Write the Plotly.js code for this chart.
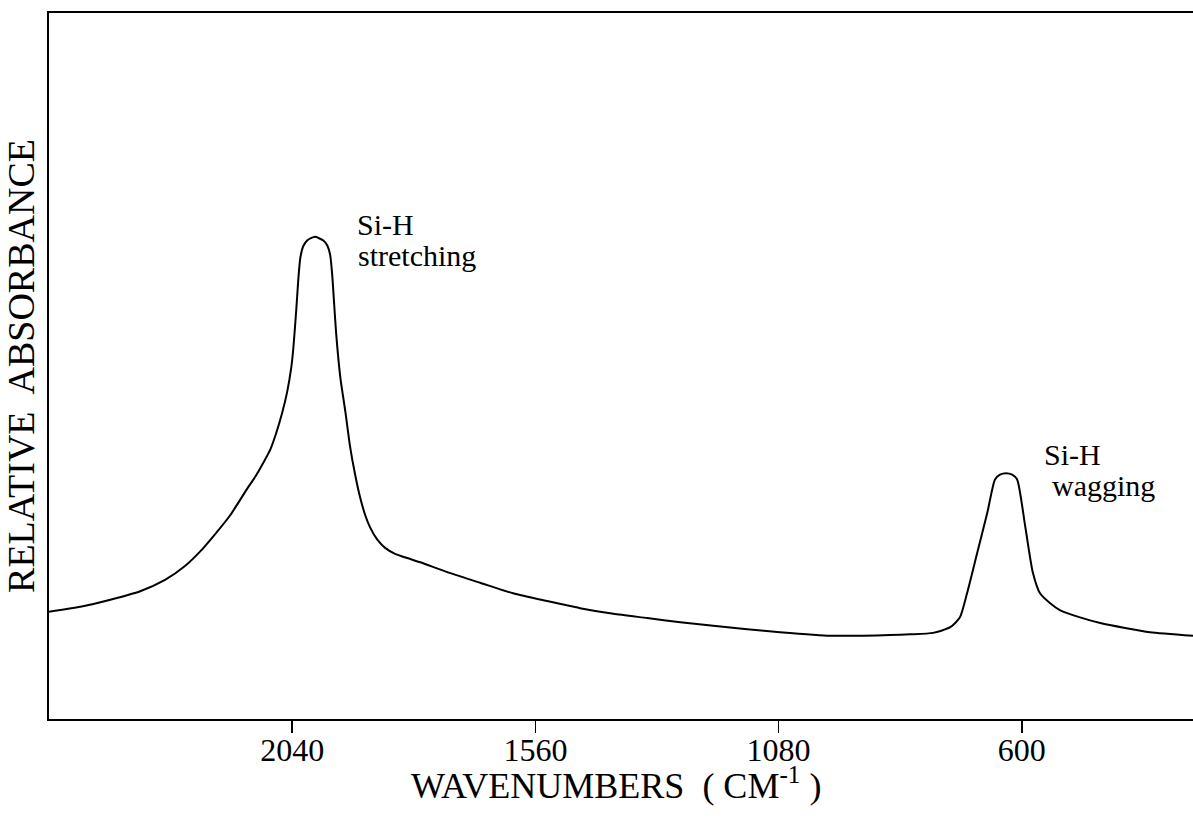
<!DOCTYPE html>
<html>
<head>
<meta charset="utf-8">
<script src="https://cdn.plot.ly/plotly-3.0.1.min.js"></script>
<style>
  html, body { margin: 0; padding: 0; background: #ffffff; }
  #chart { width: 1193px; height: 823px; }
</style>
</head>
<body>
<div id="chart"></div>
<script>
// IR absorption spectrum of hydrogenated amorphous silicon
const wavenumbers = [
  2520, 2458, 2399, 2340, 2291, 2251, 2222, 2192, 2162, 2129,
  2113, 2097, 2083, 2072, 2060, 2050, 2042, 2038, 2032, 2028,
  2024, 2018, 2010, 2003, 1995, 1987, 1979, 1971, 1965, 1961,
  1957, 1953, 1945, 1935, 1926, 1916, 1906, 1896, 1886, 1872,
  1856, 1837, 1813, 1787, 1734, 1669, 1604, 1537, 1472, 1406,
  1339, 1274, 1209, 1142, 1077, 978, 913, 860, 820, 775,
  741, 722, 708, 688, 668, 653, 643, 631, 619, 609,
  593, 578, 564, 544, 524, 485, 445, 396, 347, 262
];
const absorbance = [
  0.152, 0.159, 0.169, 0.181, 0.197, 0.217, 0.237, 0.262, 0.289, 0.326,
  0.343, 0.363, 0.382, 0.404, 0.433, 0.463, 0.497, 0.523, 0.579, 0.622,
  0.653, 0.670, 0.678, 0.681, 0.683, 0.681, 0.678, 0.671, 0.657, 0.629,
  0.586, 0.544, 0.484, 0.435, 0.387, 0.347, 0.314, 0.289, 0.271, 0.254,
  0.242, 0.234, 0.228, 0.222, 0.208, 0.193, 0.178, 0.167, 0.157, 0.149,
  0.143, 0.137, 0.132, 0.127, 0.123, 0.118, 0.118, 0.119, 0.120, 0.122,
  0.130, 0.144, 0.178, 0.235, 0.292, 0.339, 0.346, 0.348, 0.346, 0.339,
  0.272, 0.207, 0.178, 0.164, 0.154, 0.144, 0.136, 0.129, 0.123, 0.118
];

const tickValues = [2040, 1560, 1080, 600];
const tickLabels = ['2040', '1560', '1080', '600'];

// Band labels: [wavenumber at left edge of text, absorbance at text centre, text]
const bandLabelX = [1916, 1914, 560, 544];
const bandLabelY = [0.700, 0.657, 0.374, 0.331];
const bandLabelText = ['Si-H', 'stretching', 'Si-H', 'wagging'];

const xTitle = 'WAVENUMBERS  ( CM<sup>-1</sup> )';
const yTitle = 'RELATIVE  ABSORBANCE';

const serif = 'Liberation Serif, Times New Roman, serif';

const trace = {
  x: wavenumbers,
  y: absorbance,
  type: 'scatter',
  mode: 'lines',
  line: { color: '#000000', width: 2, shape: 'spline', smoothing: 0.6 },
  hoverinfo: 'x+y'
};

const annotations = bandLabelText.map((t, i) => ({
  x: bandLabelX[i],
  y: bandLabelY[i],
  xref: 'x',
  yref: 'y',
  text: t,
  showarrow: false,
  xanchor: 'left',
  yanchor: 'middle',
  font: { family: serif, size: 30, color: '#000000' }
}));

// x-axis title, set just under the tick labels
annotations.push({
  x: 0.4956,
  y: -0.092,
  xref: 'paper',
  yref: 'paper',
  text: xTitle,
  showarrow: false,
  xanchor: 'center',
  yanchor: 'middle',
  font: { family: serif, size: 36, color: '#000000' }
});

const layout = {
  width: 1193,
  height: 823,
  margin: { l: 49, r: 0, t: 13, b: 104 },
  paper_bgcolor: '#ffffff',
  plot_bgcolor: '#ffffff',
  showlegend: false,
  xaxis: {
    range: [2520, 262],
    tickmode: 'array',
    tickvals: tickValues,
    ticktext: tickLabels,
    ticks: 'outside',
    ticklen: 12,
    tickwidth: 1.5,
    tickcolor: '#000000',
    ticklabelstandoff: -10,
    showline: true,
    linewidth: 2,
    linecolor: '#000000',
    mirror: true,
    showgrid: false,
    zeroline: false,
    tickfont: { family: serif, size: 32, color: '#000000' }
  },
  yaxis: {
    range: [0, 1],
    showline: true,
    linewidth: 2,
    linecolor: '#000000',
    ticks: '',
    showticklabels: false,
    showgrid: false,
    zeroline: false,
    title: {
      text: yTitle,
      font: { family: serif, size: 38, color: '#000000' },
      standoff: 2
    }
  },
  annotations: annotations
};

Plotly.newPlot('chart', [trace], layout, { displayModeBar: false, staticPlot: true });
</script>
</body>
</html>
